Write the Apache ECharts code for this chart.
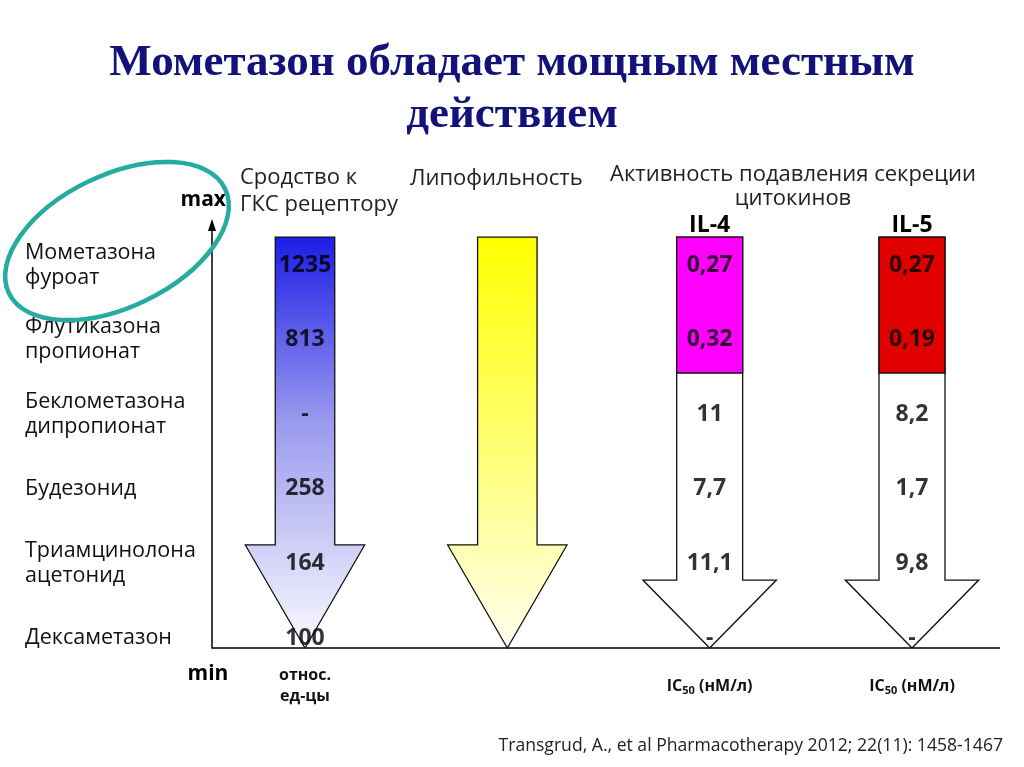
<!DOCTYPE html>
<html><head><meta charset="utf-8">
<script src="https://cdn.jsdelivr.net/npm/echarts@6/dist/echarts.min.js"></script>
<style>html,body{margin:0;padding:0;background:#fff}#c{width:1024px;height:767px}</style>
</head><body><div id="c"></div>
<script>
// ---- data ----
const drugs = ['Мометазона\nфуроат', 'Флутиказона\nпропионат', 'Беклометазона\nдипропионат', 'Будезонид', 'Триамцинолона\nацетонид', 'Дексаметазон'];
const columns = ['Сродство к ГКС рецептору', 'Липофильность', 'IL-4', 'IL-5'];
const topLabels = ['', '', 'IL-4', 'IL-5'];
const unitLabels = ['относ.\nед-цы', '', 'IC50 (нМ/л)', 'IC50 (нМ/л)'];
const affinity = ['1235', '813', '-', '258', '164', '100'];
const il4 = ['0,27', '0,32', '11', '7,7', '11,1', '-'];
const il5 = ['0,27', '0,19', '8,2', '1,7', '9,8', '-'];
const arrowKinds = ['blue', 'yellow', 'magenta', 'red'];

const FONT = 'Open Sans';
const valueData = [];
affinity.forEach((t, i) => valueData.push([0, i, t]));
il4.forEach((t, i) => valueData.push([2, i, t]));
il5.forEach((t, i) => valueData.push([3, i, t]));

const chart = echarts.init(document.getElementById('c'));

function renderArrow(params, api) {
  const i = params.dataIndex;
  const kind = arrowKinds[i];
  const cx = api.coord([i, 0])[0];
  const step = api.coord([1, 0])[0] - api.coord([0, 0])[0];
  const Y = v => api.coord([i, v])[1];
  const isIL = kind === 'magenta' || kind === 'red';
  const sh = step * (isIL ? 0.163 : 0.147);
  const hh = step * (isIL ? 0.33 : 0.295);
  const top = Y(-0.375), headY = Y(isIL ? 4.223 : 3.753), tip = Y(5.134);
  const pts = [[cx - sh, top], [cx + sh, top], [cx + sh, headY], [cx + hh, headY], [cx, tip], [cx - hh, headY], [cx - sh, headY]];
  let fill = '#fff';
  if (kind === 'blue') {
    fill = new echarts.graphic.LinearGradient(0, 0, 0, 1, [
      { offset: 0, color: '#1c1ce6' }, { offset: 0.45, color: '#9a9aee' }, { offset: 1, color: '#fbfbff' }]);
  } else if (kind === 'yellow') {
    fill = new echarts.graphic.LinearGradient(0, 0, 0, 1, [
      { offset: 0, color: '#ffff00' }, { offset: 0.5, color: '#ffff70' }, { offset: 1, color: '#fffff0' }]);
  }
  const children = [{
    type: 'polygon', shape: { points: pts },
    style: { fill: fill, stroke: '#111', lineWidth: 1.3 }
  }];
  if (isIL) {
    const bot = Y(1.448);
    children.push({
      type: 'rect', shape: { x: cx - sh, y: top, width: 2 * sh, height: bot - top },
      style: { fill: kind === 'magenta' ? '#ff00ff' : '#e00000', stroke: '#111', lineWidth: 1.3 }
    });
  }
  return { type: 'group', children: children };
}

const option = {
  backgroundColor: '#fff',
  animation: false,
  title: [{
    text: 'Мометазон обладает мощным местным\nдействием',
    left: 'center', top: 32,
    textStyle: { fontFamily: 'Liberation Serif', fontWeight: 'bold', fontSize: 45, lineHeight: 52, color: '#12127a' }
  }, {
    text: 'Transgrud, A., et al Pharmacotherapy 2012; 22(11): 1458-1467',
    right: 16, bottom: 7,
    textStyle: { fontFamily: FONT, fontWeight: 'normal', fontSize: 17.6, color: '#222' }
  }],
  grid: { left: 305, right: 112, top: 265, bottom: 129 },
  xAxis: [{
    type: 'category', data: columns, boundaryGap: false, position: 'bottom',
    axisLine: { show: false }, axisTick: { show: false }, splitLine: { show: false },
    axisLabel: {
      interval: 0, margin: 48, verticalAlign: 'middle',
      fontFamily: FONT, fontWeight: 'bold', fontSize: 16, lineHeight: 21, color: '#111',
      formatter: (v, idx) => unitLabels[idx].replace('IC50', 'IC{s|50}'),
      rich: { s: { fontFamily: FONT, fontWeight: 'bold', fontSize: 11, verticalAlign: 'bottom', padding: [7, 0, 0, 0], color: '#111' } }
    }
  }, {
    type: 'category', data: columns, boundaryGap: false, position: 'top',
    axisLine: { show: false }, axisTick: { show: false }, splitLine: { show: false },
    axisLabel: {
      interval: 0, margin: 40, verticalAlign: 'middle',
      fontFamily: FONT, fontWeight: 'bold', fontSize: 23, color: '#000',
      formatter: (v, idx) => topLabels[idx]
    }
  }],
  yAxis: {
    type: 'value', min: 0, max: 5, interval: 1, inverse: true,
    axisLine: { show: false }, axisTick: { show: false }, splitLine: { show: false },
    axisLabel: {
      align: 'left', margin: 280, fontFamily: FONT, fontSize: 21.5, lineHeight: 25, color: '#111',
      formatter: v => drugs[v] || ''
    }
  },
  series: [{
    type: 'custom', clip: false, renderItem: renderArrow,
    data: arrowKinds.map((k, i) => [i]), z: 1
  }, {
    type: 'scatter', symbolSize: 1, itemStyle: { color: 'rgba(0,0,0,0)' }, z: 5,
    data: valueData,
    label: {
      show: true, position: 'inside', formatter: p => p.value[2],
      fontFamily: FONT, fontWeight: 'bold', fontSize: 23, color: '#000'
    }
  }],
  graphic: [
    { type: 'polyline', shape: { points: [[212, 226], [212, 648], [1000, 648]] }, style: { stroke: '#000', lineWidth: 1.5, fill: null } },
    { type: 'polygon', shape: { points: [[212, 219], [208, 231], [216, 231]] }, style: { fill: '#000' } },
    { type: 'text', x: 226, y: 200, style: { text: 'max', align: 'right', verticalAlign: 'middle', font: 'bold 21px "Open Sans"', fill: '#000' } },
    { type: 'text', x: 208, y: 674, style: { text: 'min', align: 'center', verticalAlign: 'middle', font: 'bold 21px "Open Sans"', fill: '#000' } },
    { type: 'text', x: 240, y: 191, style: { text: 'Сродство к\nГКС рецептору', align: 'left', verticalAlign: 'middle', font: '22px "Open Sans"', lineHeight: 27, fill: '#222' } },
    { type: 'text', x: 410, y: 179, style: { text: 'Липофильность', align: 'left', verticalAlign: 'middle', font: '22px "Open Sans"', fill: '#222' } },
    { type: 'text', x: 793, y: 187, style: { text: 'Активность подавления секреции\nцитокинов', align: 'center', verticalAlign: 'middle', font: '22px "Open Sans"', lineHeight: 24, fill: '#222' } },
    { type: 'ellipse', x: 117, y: 241, rotation: 0.45, shape: { cx: 0, cy: 0, rx: 120, ry: 66 }, style: { fill: null, stroke: '#25ab9f', lineWidth: 4.5 }, z: 10 }
  ]
};
chart.setOption(option);
</script></body></html>
